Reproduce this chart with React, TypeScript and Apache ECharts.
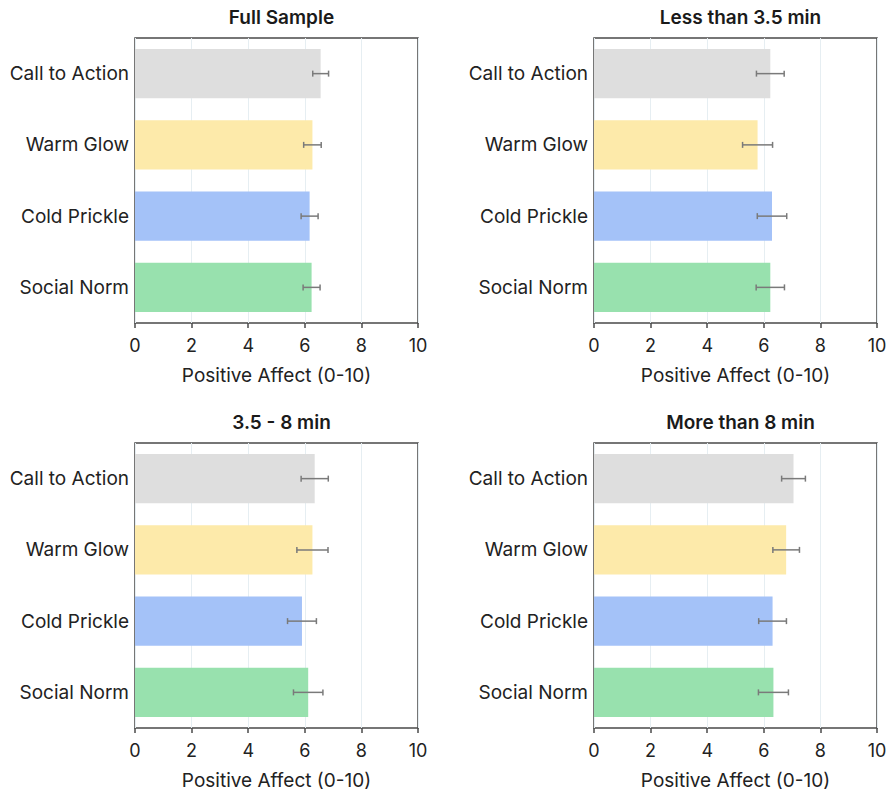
import React, { useEffect, useRef } from "react";
import * as echarts from "echarts";

const categories = ["Call to Action", "Warm Glow", "Cold Prickle", "Social Norm"];
const panelTitles = ["Full Sample", "Less than 3.5 min", "3.5 - 8 min", "More than 8 min"];
const barColors = ["#dedede", "#fdeaaa", "#a4c2f8", "#98e1ae"];

const fullMeans = [6.56, 6.27, 6.17, 6.24];
const fullErr = [0.28, 0.31, 0.3, 0.3];
const lessMeans = [6.23, 5.78, 6.29, 6.23];
const lessErr = [0.49, 0.53, 0.52, 0.5];
const midMeans = [6.35, 6.27, 5.9, 6.12];
const midErr = [0.48, 0.55, 0.51, 0.52];
const moreMeans = [7.05, 6.79, 6.31, 6.34];
const moreErr = [0.42, 0.47, 0.49, 0.53];

const axisMin = 0;
const axisMax = 10;
const tickStep = 2;
const xAxisTitle = "Positive Affect (0-10)";

const panelMeans = [fullMeans, lessMeans, midMeans, moreMeans];
const panelErrs = [fullErr, lessErr, midErr, moreErr];

const FONT = "Inter, Lato, 'Noto Sans', sans-serif";

const gridPos = [
  { left: 135, top: 38 },
  { left: 594, top: 38 },
  { left: 135, top: 443 },
  { left: 594, top: 443 },
];
const GW = 283;
const GH = 285;

export default function App() {
  const ref = useRef<HTMLDivElement>(null);
  useEffect(() => {
    if (!ref.current) return;
    const chart = echarts.init(ref.current, undefined, { renderer: "svg" });
    const grids: any[] = [];
    const xAxes: any[] = [];
    const yAxes: any[] = [];
    const series: any[] = [];
    const titles: any[] = [];
    panelTitles.forEach((t, i) => {
      const g = gridPos[i];
      grids.push({
        left: g.left,
        top: g.top,
        width: GW,
        height: GH,
        show: true,
        borderColor: "#4a4a4a",
        borderWidth: 1.5,
        backgroundColor: "transparent",
      });
      titles.push({
        text: t,
        left: g.left + GW / 2,
        textAlign: "center",
        top: g.top - 35,
        textStyle: { fontFamily: FONT, fontSize: 19, fontWeight: 600, color: "#1a1a1a" },
      });
      xAxes.push({
        type: "value",
        gridIndex: i,
        min: axisMin,
        max: axisMax,
        interval: tickStep,
        name: xAxisTitle,
        nameLocation: "middle",
        nameGap: 43,
        nameTextStyle: { fontFamily: FONT, fontSize: 19, color: "#222" },
        axisLine: { show: false },
        axisTick: { show: true, length: 5, lineStyle: { color: "#4a4a4a", width: 1.5 } },
        axisLabel: { fontFamily: FONT, fontSize: 18, color: "#222", margin: 13 },
        splitLine: { show: true, lineStyle: { color: "#e6eef2", width: 1 } },
      });
      yAxes.push({
        type: "category",
        gridIndex: i,
        data: categories,
        inverse: true,
        axisLine: { show: false },
        axisTick: { show: false },
        axisLabel: { fontFamily: FONT, fontSize: 19, color: "#222", margin: 6 },
        splitLine: { show: false },
      });
      series.push({
        type: "bar",
        xAxisIndex: i,
        yAxisIndex: i,
        barCategoryGap: "31%",
        data: panelMeans[i].map((v, k) => ({ value: v, itemStyle: { color: barColors[k] } })),
        z: 2,
      });
      series.push({
        type: "custom",
        xAxisIndex: i,
        yAxisIndex: i,
        z: 5,
        encode: { x: 0, y: 1 },
        data: panelMeans[i].map((v, k) => [v, k, panelErrs[i][k]]),
        renderItem: (params: any, api: any) => {
          const mean = api.value(0);
          const cat = api.value(1);
          const err = api.value(2);
          const lo = api.coord([mean - err, cat]);
          const hi = api.coord([mean + err, cat]);
          const cap = 3;
          const style = { stroke: "#7a7a7a", lineWidth: 1.5 };
          return {
            type: "group",
            children: [
              { type: "line", shape: { x1: lo[0], y1: lo[1], x2: hi[0], y2: hi[1] }, style },
              { type: "line", shape: { x1: lo[0], y1: lo[1] - cap, x2: lo[0], y2: lo[1] + cap }, style },
              { type: "line", shape: { x1: hi[0], y1: hi[1] - cap, x2: hi[0], y2: hi[1] + cap }, style },
            ],
          };
        },
      });
    });
    chart.setOption({
      animation: false,
      backgroundColor: "#ffffff",
      title: titles,
      grid: grids,
      xAxis: xAxes,
      yAxis: yAxes,
      series,
    });
    return () => chart.dispose();
  }, []);
  return (
    <div
      ref={ref}
      style={{ position: "fixed", left: 0, top: 0, width: 891, height: 791 }}
    />
  );
}
